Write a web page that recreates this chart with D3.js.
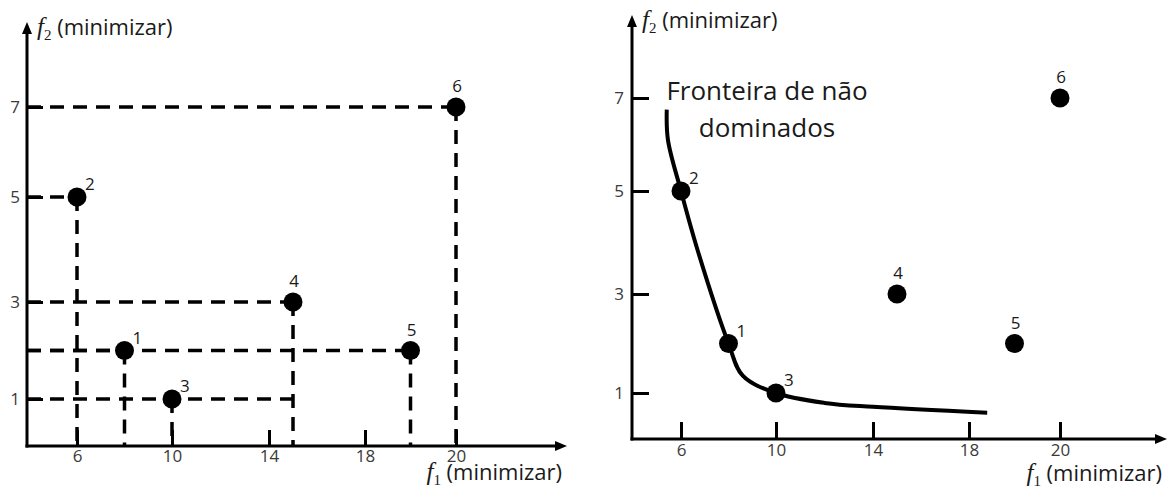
<!DOCTYPE html>
<html>
<head>
<meta charset="utf-8">
<script src="https://cdn.jsdelivr.net/npm/d3@7"></script>
<style>
  body { margin: 0; background: #fff; }
</style>
</head>
<body>
<div id="chart"></div>
<script>
/*point data: id, objective values and label placement*/
var pointIds = [1, 2, 3, 4, 5, 6];
var f1Values = [8, 6, 10, 15, 19, 20];
var f2Values = [2, 5, 1, 3, 2, 7];
var labelPos = ["ne", "ne", "ne", "n", "n", "n"];
/*where each horizontal dashed guide stops (in f1 units) on the left panel*/
var hGuideEnd = [8, 6, 15, 15, 19, 20];

/*tick values*/
var xTicks = [6, 10, 14, 18, 20];
var yTicks = [1, 3, 5, 7];

/*non-dominated front*/
var frontF1 = [5.4, 5.45, 6, 6.7, 8, 8.6, 10, 12, 14, 18.4];
var frontF2 = [6.75, 6.1, 5, 3.85, 2, 1.35, 1, 0.8, 0.72, 0.6];
var frontLabel = ["Fronteira de não", "dominados"];
var titleText = " (minimizar)";

/*hand drawn figure: tick spacing is not uniform, so use piecewise scales*/
var panels = [
  {x0: 27, y0: 446, xRange: [77, 172, 269, 365, 456], yRange: [399, 302, 197, 107],
   yTop: 22, xEnd: 567, tick: 16, xPad: 4, yPad: 7, guides: true, front: false, xTitleY: 480},
  {x0: 632, y0: 439, xRange: [681, 776, 873, 969, 1060], yRange: [393, 294, 191, 98],
   yTop: 15, xEnd: 1167, tick: 17, xPad: 5, yPad: 8, guides: false, front: true, xTitleY: 481,
   frontX: 767, frontY: [100, 137]}
];

var svg = d3.select("#chart").append("svg")
  .attr("width", 1171)
  .attr("height", 493);

/*arrow head for the axes*/
svg.append("defs").append("marker")
  .attr("id", "arrow")
  .attr("viewBox", "0 0 12 10")
  .attr("refX", 4)
  .attr("refY", 5)
  .attr("markerWidth", 12)
  .attr("markerHeight", 10)
  .attr("markerUnits", "userSpaceOnUse")
  .attr("orient", "auto")
  .append("path")
  .attr("d", "M0,0L12,5L0,10Z")
  .attr("fill", "#000");

var points = pointIds.map(function(id, i) {
  return {id: id, f1: f1Values[i], f2: f2Values[i], pos: labelPos[i], hEnd: hGuideEnd[i]};
});

/*axis title with italic f and subscript index*/
function axisTitle(g, x, y, sub, anchor) {
  var t = g.append("text")
    .attr("x", x)
    .attr("y", y)
    .attr("text-anchor", anchor)
    .attr("fill", "#1a1a1a");
  t.append("tspan")
    .attr("font-family", "Liberation Serif")
    .attr("font-style", "italic")
    .attr("font-size", "25px")
    .text("f");
  t.append("tspan")
    .attr("font-family", "Liberation Serif")
    .attr("font-size", "15px")
    .attr("dy", 5)
    .text(sub);
  t.append("tspan")
    .attr("font-family", "Open Sans")
    .attr("font-size", "22px")
    .attr("dy", -5)
    .text(titleText);
}

/*style axis ticks like the drawing*/
function styleAxis(s) {
  s.select(".domain").remove();
  s.selectAll(".tick line").attr("stroke", "#000").attr("stroke-width", 3);
  s.selectAll(".tick text")
    .attr("font-family", "Open Sans")
    .attr("font-size", "17px")
    .attr("fill", "#3a3a3a");
}

panels.forEach(function(p) {
  var g = svg.append("g");
  var x = d3.scaleLinear().domain(xTicks).range(p.xRange);
  var y = d3.scaleLinear().domain(yTicks).range(p.yRange);

  /*dashed guides from the axes to each point*/
  if (p.guides) {
    g.selectAll(".hguide").data(points).enter().append("line")
      .attr("x1", p.x0).attr("x2", d => x(d.hEnd))
      .attr("y1", d => y(d.f2)).attr("y2", d => y(d.f2))
      .attr("stroke", "#000").attr("stroke-width", 3.5)
      .attr("stroke-dasharray", "14,9");
    g.selectAll(".vguide").data(points).enter().append("line")
      .attr("x1", d => x(d.f1)).attr("x2", d => x(d.f1))
      .attr("y1", d => y(d.f2)).attr("y2", p.y0)
      .attr("stroke", "#000").attr("stroke-width", 3.5)
      .attr("stroke-dasharray", "14,9");
  }

  /*axes: ticks point inward, labels outside*/
  g.append("g")
    .attr("transform", `translate(0,${p.y0})`)
    .call(d3.axisBottom(x).tickValues(xTicks).tickFormat(d3.format("d"))
      .tickSize(-p.tick).tickPadding(p.xPad))
    .call(styleAxis);

  g.append("g")
    .attr("transform", `translate(${p.x0},0)`)
    .call(d3.axisLeft(y).tickValues(yTicks).tickFormat(d3.format("d"))
      .tickSize(-p.tick).tickPadding(p.yPad))
    .call(styleAxis);

  g.append("line")
    .attr("x1", p.x0 - 1.5).attr("x2", p.xEnd - 8)
    .attr("y1", p.y0).attr("y2", p.y0)
    .attr("stroke", "#000").attr("stroke-width", 3)
    .attr("marker-end", "url(#arrow)");

  g.append("line")
    .attr("x1", p.x0).attr("x2", p.x0)
    .attr("y1", p.y0 + 1.5).attr("y2", p.yTop + 8)
    .attr("stroke", "#000").attr("stroke-width", 3)
    .attr("marker-end", "url(#arrow)");

  axisTitle(g, p.x0 + 10, p.yTop + 13, "2", "start");
  axisTitle(g, p.xEnd - 5, p.xTitleY, "1", "end");

  /*non-dominated front curve and its label*/
  if (p.front) {
    var line = d3.line()
      .x(d => x(d[0]))
      .y(d => y(d[1]))
      .curve(d3.curveCatmullRom.alpha(0.5));
    g.append("path")
      .datum(d3.zip(frontF1, frontF2))
      .attr("d", line)
      .attr("fill", "none")
      .attr("stroke", "#000")
      .attr("stroke-width", 4);

    g.selectAll(".front-label").data(frontLabel).enter().append("text")
      .attr("x", p.frontX)
      .attr("y", (d, i) => p.frontY[i])
      .attr("text-anchor", "middle")
      .attr("font-family", "Open Sans")
      .attr("font-size", "26px")
      .attr("fill", "#1a1a1a")
      .text(d => d);
  }

  /*points and their numbers*/
  g.selectAll(".pt").data(points).enter().append("circle")
    .attr("cx", d => x(d.f1))
    .attr("cy", d => y(d.f2))
    .attr("r", 9.5)
    .attr("fill", "#000");

  g.selectAll(".pt-label").data(points).enter().append("text")
    .attr("x", d => x(d.f1) + (d.pos == "ne" ? 8 : 1))
    .attr("y", d => y(d.f2) + (d.pos == "ne" ? -7 : -15))
    .attr("text-anchor", d => d.pos == "ne" ? "start" : "middle")
    .attr("font-family", "Open Sans")
    .attr("font-size", "17px")
    .attr("fill", "#1a1a1a")
    .text(d => d.id);
});
</script>
</body>
</html>
